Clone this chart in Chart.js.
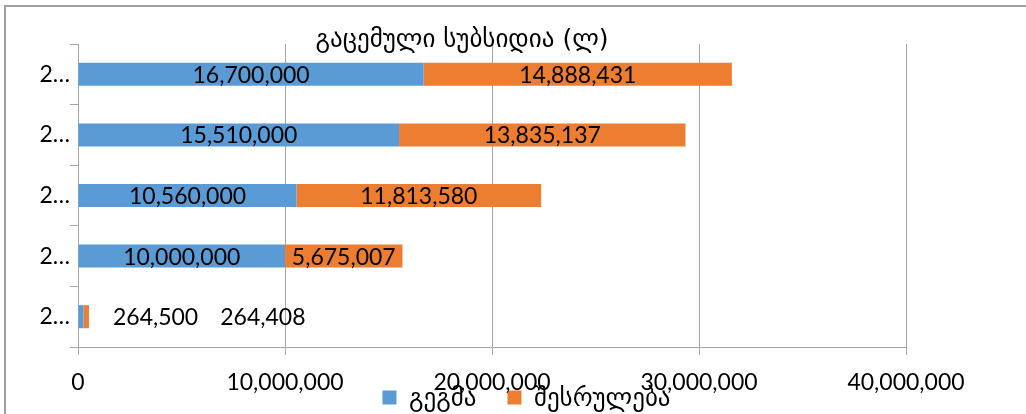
<!DOCTYPE html>
<html>
<head>
<meta charset="utf-8">
<script src="https://cdn.jsdelivr.net/npm/chart.js@4.4.0/dist/chart.umd.min.js"></script>
<style>
  html, body { margin: 0; padding: 0; background: #fff; }
  canvas { display: block; }
</style>
</head>
<body>
<canvas id="subsidyChart" width="1026" height="414"></canvas>
<script>
// Chart data
const categories = ['2…', '2…', '2…', '2…', '2…'];
const planValues = [16700000, 15510000, 10560000, 10000000, 264500];
const actualValues = [14888431, 13835137, 11813580, 5675007, 264408];
const xTicks = [0, 10000000, 20000000, 30000000, 40000000];
const seriesNames = ['გეგმა', 'შესრულება'];
const chartTitle = 'გაცემული სუბსიდია (ლ)';

const colors = {
    plan: '#5b9bd5',
    actual: '#ed7d31',
    grid: '#a6a6a6',
    text: '#000000'
};
const fontFamily = 'Lato, "DejaVu Sans", sans-serif';

const fmt = (v) => v.toLocaleString('en-US');

// Frame round the whole chart
const framePlugin = {
    id: 'frame',
    beforeDraw(chart) {
        const ctx = chart.ctx;
        ctx.save();
        ctx.fillStyle = '#fff';
        ctx.fillRect(0, 0, chart.width, chart.height);
        ctx.strokeStyle = '#a0a0a0';
        ctx.lineWidth = 2;
        ctx.strokeRect(5, 6, chart.width + 20, chart.height + 20);
        ctx.restore();
    }
};

// The legend takes no room of its own and sits over the axis labels,
// like in the original; title is centred a bit to the right too
const legendPlace = {
    id: 'legendPlace',
    beforeLayout(chart) {
        const lg = chart.legend;
        if (lg && !lg._fixedFit) {
            const fit = lg.fit;
            lg.fit = function () {
                fit.call(this);
                this.height = 0;
            };
            lg._fixedFit = true;
        }
    },
    afterLayout(chart) {
        const lg = chart.legend;
        if (lg) {
            lg.left = 27;
            lg.right = 1026;
            lg.width = lg.right - lg.left;
            lg.top = 354;
            lg.bottom = 414;
            lg.height = lg.bottom - lg.top;
        }
        const tb = chart.titleBlock;
        if (tb) {
            tb.left = 0;
            tb.right = 924;
            tb.width = 924;
        }
    }
};

// Value labels in the middle of each segment, or after the stack when too small
const barLabels = {
    id: 'barLabels',
    afterDatasetsDraw(chart) {
        const ctx = chart.ctx;
        ctx.save();
        ctx.font = '23px ' + fontFamily;
        ctx.fillStyle = colors.text;
        ctx.textBaseline = 'middle';
        const nextX = {};
        chart.data.datasets.forEach((ds, di) => {
            const meta = chart.getDatasetMeta(di);
            meta.data.forEach((bar, i) => {
                const text = fmt(ds.data[i]);
                const w = ctx.measureText(text).width;
                const left = Math.min(bar.x, bar.base);
                const right = Math.max(bar.x, bar.base);
                if (w + 4 <= right - left) {
                    ctx.textAlign = 'center';
                    ctx.fillText(text, (left + right) / 2, bar.y + 1);
                } else {
                    if (nextX[i] === undefined) {
                        const ends = chart.data.datasets.map((d, k) => chart.getDatasetMeta(k).data[i].x);
                        nextX[i] = Math.max(...ends) + 24;
                    }
                    ctx.textAlign = 'left';
                    ctx.fillText(text, nextX[i], bar.y + 1);
                    nextX[i] += w + 22;
                }
            });
        });
        ctx.restore();
    }
};

const ctx = document.getElementById('subsidyChart');

new Chart(ctx, {
    type: 'bar',
    data: {
        labels: categories,
        datasets: [
            {
                label: seriesNames[0],
                data: planValues,
                backgroundColor: colors.plan,
                borderWidth: 0
            },
            {
                label: seriesNames[1],
                data: actualValues,
                backgroundColor: colors.actual,
                borderWidth: 0
            }
        ]
    },
    options: {
        indexAxis: 'y',
        responsive: false,
        animation: false,
        devicePixelRatio: 1,
        datasets: {
            bar: { barPercentage: 0.38, categoryPercentage: 1 }
        },
        layout: {
            padding: { top: 4, right: 120, bottom: 0, left: 0 }
        },
        plugins: {
            title: {
                display: true,
                text: chartTitle,
                color: colors.text,
                font: { family: '"DejaVu Sans", sans-serif', size: 25, weight: 'normal', lineHeight: 1.2 },
                padding: { top: 21, bottom: -11 }
            },
            legend: {
                position: 'bottom',
                labels: {
                    color: colors.text,
                    boxWidth: 14,
                    boxHeight: 14,
                    padding: 31,
                    font: { family: fontFamily, size: 25 }
                }
            },
            tooltip: { enabled: false }
        },
        scales: {
            x: {
                stacked: true,
                min: 0,
                max: 40000000,
                afterBuildTicks: (scale) => {
                    scale.ticks = xTicks.map(v => ({ value: v }));
                },
                afterFit: (scale) => { scale.height = 67; },
                ticks: {
                    color: colors.text,
                    font: { family: fontFamily, size: 23 },
                    padding: 14,
                    maxRotation: 0,
                    callback: (v) => fmt(v)
                },
                grid: { color: colors.grid, tickLength: 8 },
                border: { color: colors.grid }
            },
            y: {
                stacked: true,
                afterFit: (scale) => { scale.width = 78; },
                ticks: {
                    color: colors.text,
                    font: { family: fontFamily, size: 23 },
                    padding: 0
                },
                grid: { drawOnChartArea: false, color: colors.grid, tickLength: 8, offset: true },
                border: { color: colors.grid }
            }
        }
    },
    plugins: [framePlugin, legendPlace, barLabels]
});
</script>
</body>
</html>
